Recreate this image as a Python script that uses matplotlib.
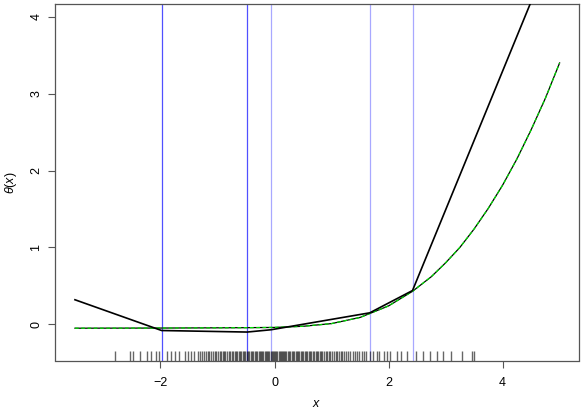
import numpy as np
import matplotlib.pyplot as plt
from matplotlib.transforms import blended_transform_factory

plt.rcParams['font.family'] = 'Liberation Sans'
plt.rcParams['mathtext.fontset'] = 'custom'
plt.rcParams['mathtext.it'] = 'Liberation Sans:italic'
plt.rcParams['mathtext.rm'] = 'Liberation Sans'

# piecewise linear fit (black)
fit_x = [-3.5, -1.98, -0.48, -0.06, 1.67, 2.42, 5.0]
fit_y = [0.32, -0.08, -0.10, -0.07, 0.15, 0.44, 5.10]

# true curve (green dashed)
true_x = [-3.5, -2.0, -1.0, -0.5, 0.0, 0.5, 1.0, 1.5, 2.0, 2.42, 2.75,
          3.0, 3.25, 3.5, 3.75, 4.0, 4.25, 4.5, 4.75, 5.0]
true_y = [-0.05, -0.048, -0.045, -0.043, -0.04, -0.025, 0.01, 0.09, 0.24, 0.43, 0.62,
          0.80, 1.00, 1.24, 1.51, 1.81, 2.15, 2.53, 2.94, 3.40]

# knots
knots_dark = [-1.98, -0.48]
knots_light = [-0.06, 1.67, 2.42]

# observed x (rug)
rug_x = [-2.80, -2.53, -2.49, -2.36, -2.24, -2.17, -2.08, -2.03, -1.88, -1.82,
         -1.75, -1.68, -1.57, -1.51, -1.46, -1.42, -1.34, -1.31, -1.27, -1.24,
         -1.21, -1.17, -1.15, -1.12, -1.08, -1.05, -1.03, -0.99, -0.96, -0.94,
         -0.91, -0.88, -0.86, -0.83, -0.80, -0.78, -0.75, -0.73, -0.70, -0.68,
         -0.66, -0.63, -0.61, -0.58, -0.56, -0.53, -0.51, -0.49, -0.46, -0.44,
         -0.42, -0.39, -0.37, -0.35, -0.33, -0.30, -0.28, -0.26, -0.24, -0.22,
         -0.20, -0.17, -0.15, -0.13, -0.11, -0.09, -0.07, -0.05, -0.03, -0.01,
         0.01, 0.03, 0.05, 0.07, 0.09, 0.11, 0.13, 0.15, 0.17, 0.19,
         0.21, 0.24, 0.26, 0.28, 0.30, 0.32, 0.34, 0.37, 0.39, 0.41,
         0.43, 0.46, 0.48, 0.50, 0.53, 0.55, 0.57, 0.60, 0.62, 0.64,
         0.67, 0.69, 0.72, 0.74, 0.77, 0.79, 0.82, 0.84, 0.87, 0.90,
         0.92, 0.95, 0.98, 1.01, 1.04, 1.07, 1.10, 1.13, 1.16, 1.19,
         1.22, 1.26, 1.29, 1.33, 1.37, 1.41, 1.45, 1.49, 1.53, 1.57,
         1.60, 1.68, 1.73, 1.79, 1.83, 1.92, 1.98, 2.03, 2.14, 2.22,
         2.32, 2.49, 2.61, 2.73, 2.85, 2.96, 3.09, 3.28, 3.46, 3.50]

fig = plt.figure(figsize=(5.81, 4.11), dpi=100)
ax = fig.add_axes([55/581, 1 - 360.5/411, (579 - 55)/581, (360.5 - 4.5)/411])

for k in knots_dark:
    ax.axvline(k, color='#5050ff', lw=0.9, zorder=1)
for k in knots_light:
    ax.axvline(k, color='#a8a8ff', lw=0.9, zorder=1)

trans = blended_transform_factory(ax.transData, ax.transAxes)
ax.vlines(rug_x, 0, 0.028, transform=trans, color='black', alpha=0.6, lw=1.0, zorder=2)

ax.plot(true_x, true_y, color='black', lw=0.9, zorder=3)
ax.plot(true_x, true_y, color='#00dd00', lw=0.9, ls=(0, (3, 2)), zorder=4)
ax.plot(fit_x, fit_y, color='black', lw=1.2, zorder=5)

ax.set_xlim(-3.85, 5.34)
ax.set_ylim(-0.47, 4.16)
ax.set_xticks([-2, 0, 2, 4])
ax.set_yticks([0, 1, 2, 3, 4])
ax.set_xticklabels(['\u22122', '0', '2', '4'])
for lab in ax.get_yticklabels():
    lab.set_rotation(90)
    lab.set_va('center')

for s in ax.spines.values():
    s.set_color('#555555')
    s.set_linewidth(0.9)
ax.tick_params(axis='both', length=5, width=0.8, color='#555555', labelsize=9, pad=7)
ax.tick_params(axis='y', pad=4)

ax.set_xlabel('$x$', fontsize=9, labelpad=6)
ax.set_ylabel(r'$\theta(x)$', fontsize=9, labelpad=8)

fig.savefig('out.png', dpi=100)
